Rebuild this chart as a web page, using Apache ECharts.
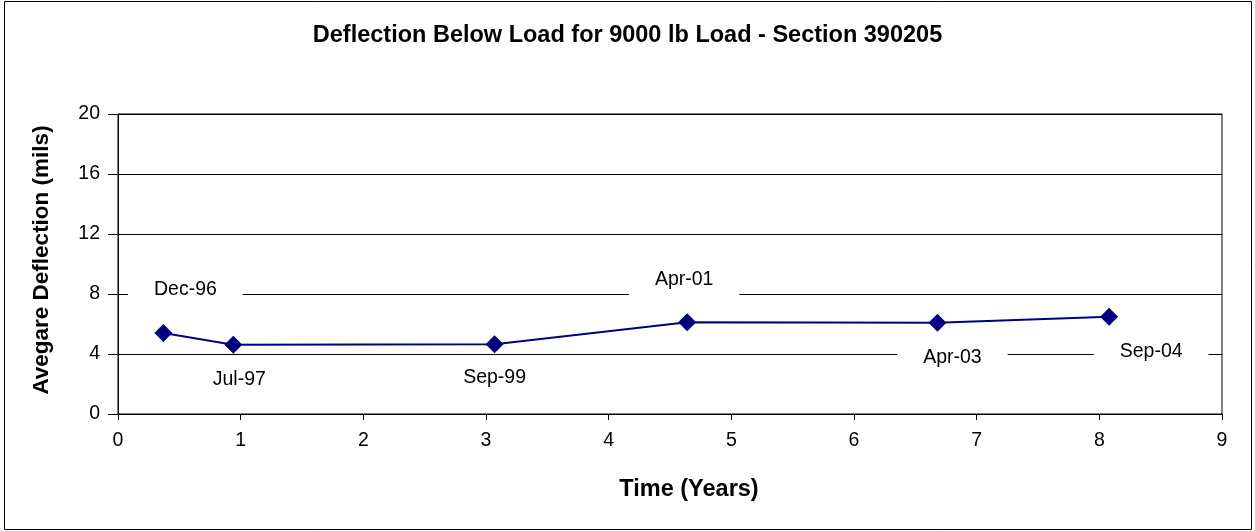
<!DOCTYPE html>
<html>
<head>
<meta charset="utf-8">
<script src="https://cdn.jsdelivr.net/npm/echarts@6/dist/echarts.min.js"></script>
<style>
html,body{margin:0;padding:0;background:#fff;}
#chart{width:1255px;height:531px;}
</style>
</head>
<body>
<div id="chart"></div>
<script>
// Data
const dateLabels = ['Dec-96', 'Jul-97', 'Sep-99', 'Apr-01', 'Apr-03', 'Sep-04'];
const timeYears = [0.37, 0.94, 3.07, 4.64, 6.68, 8.08];
const deflection = [5.4, 4.62, 4.65, 6.11, 6.09, 6.49];
const yTicks = [0, 4, 8, 12, 16, 20];
const xTicks = [0, 1, 2, 3, 4, 5, 6, 7, 8, 9];

// Manually placed data-label offsets (px from the marker), as in the source
const labelOffsets = [[22, -43], [6, 35], [0, 33], [-3, -43], [15, 35], [42, 35]];

const FONT = '"Liberation Sans", Arial, sans-serif';

const seriesData = timeYears.map((t, i) => ({
  value: [t, deflection[i]],
  name: dateLabels[i],
  label: { offset: labelOffsets[i] }
}));

const chart = echarts.init(document.getElementById('chart'), null, { renderer: 'canvas' });
chart.setOption({
  animation: false,
  backgroundColor: '#fff',
  title: {
    text: 'Deflection Below Load for 9000 lb Load - Section 390205',
    left: 'center',
    top: 19,
    textStyle: { fontFamily: FONT, fontSize: 23.5, fontWeight: 'bold', color: '#000' }
  },
  graphic: [{
    type: 'rect',
    shape: { x: 4.5, y: 1.5, width: 1247, height: 528 },
    style: { fill: 'none', stroke: '#000', lineWidth: 1 },
    silent: true
  }],
  grid: {
    left: 118, right: 33, top: 114, bottom: 117,
    show: true, borderColor: '#000', borderWidth: 1, backgroundColor: 'transparent'
  },
  xAxis: {
    type: 'value',
    min: xTicks[0], max: xTicks[xTicks.length - 1], interval: 1,
    name: 'Time (Years)',
    nameLocation: 'middle',
    nameGap: 64,
    nameTextStyle: { fontFamily: FONT, fontSize: 23.5, fontWeight: 'bold', color: '#000', padding: [0, 0, 0, 38] },
    axisLine: { show: true, lineStyle: { color: '#000', width: 1 } },
    axisTick: { show: true, inside: false, length: 6, lineStyle: { color: '#000' } },
    axisLabel: { fontFamily: FONT, fontSize: 19.5, color: '#000', margin: 17 },
    splitLine: { show: false }
  },
  yAxis: {
    type: 'value',
    min: yTicks[0], max: yTicks[yTicks.length - 1], interval: 4,
    name: 'Avegare Deflection (mils)',
    nameLocation: 'middle',
    nameGap: 65,
    nameRotate: 90,
    nameTextStyle: { fontFamily: FONT, fontSize: 22.5, fontWeight: 'bold', color: '#000', padding: [0, 0, 0, 8] },
    axisLine: { show: true, lineStyle: { color: '#000', width: 1 } },
    axisTick: { show: true, inside: false, length: 10, lineStyle: { color: '#000' } },
    axisLabel: { fontFamily: FONT, fontSize: 19.5, color: '#000', margin: 18 },
    splitLine: { show: true, lineStyle: { color: '#000', width: 1 } }
  },
  series: [{
    type: 'line',
    data: seriesData,
    symbol: 'diamond',
    symbolSize: 18,
    lineStyle: { color: '#000080', width: 2 },
    itemStyle: { color: '#000080' },
    label: {
      show: true,
      position: 'inside',
      formatter: p => p.name,
      fontFamily: FONT,
      fontSize: 19.5,
      color: '#000',
      backgroundColor: '#fff',
      padding: [8, 26],
      align: 'center',
      verticalAlign: 'middle'
    },
    emphasis: { disabled: true },
    z: 5
  }]
});
</script>
</body>
</html>
